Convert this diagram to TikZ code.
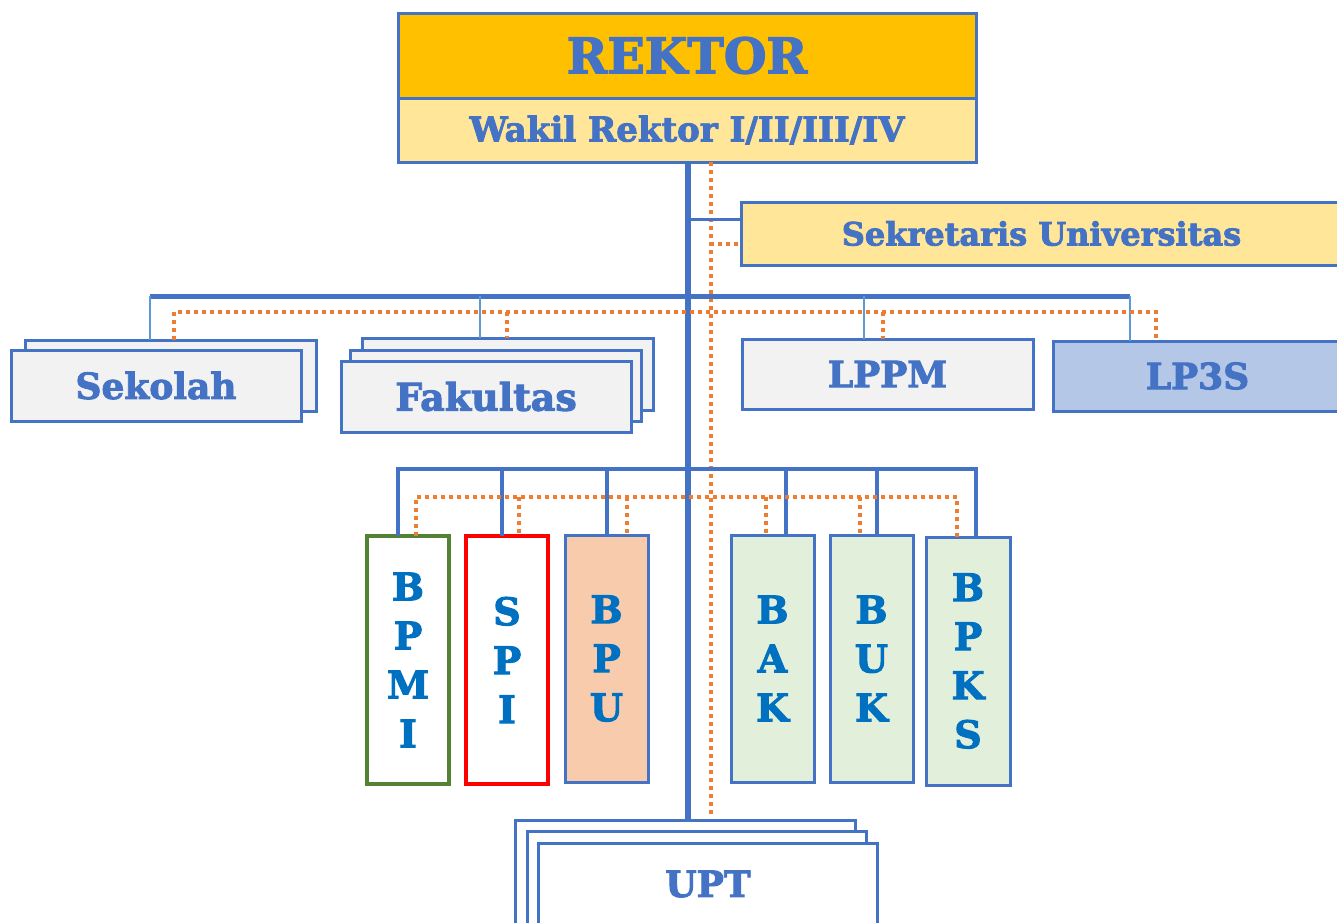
\documentclass[tikz,border=0pt]{standalone}
\usepackage{fontspec}
\setmainfont{DejaVu Serif}[BoldFeatures={FakeBold=2.6}]
\usetikzlibrary{calc}
\definecolor{bl}{HTML}{4472C4}
\definecolor{lbl}{HTML}{5B9BD5}
\definecolor{org}{HTML}{ED7D31}
\definecolor{gold}{HTML}{FFC000}
\definecolor{lgold}{HTML}{FFE699}
\definecolor{gry}{HTML}{F2F2F2}
\definecolor{lp}{HTML}{B4C7E7}
\definecolor{pch}{HTML}{F8CBAD}
\definecolor{lgr}{HTML}{E2EFDA}
\definecolor{dgr}{HTML}{548235}
\definecolor{tb}{HTML}{0070C0}
\begin{document}
\begin{tikzpicture}[x=1pt,y=-1pt,
  box/.style={draw=bl,line width=3pt,inner sep=0pt,outer sep=0pt,text=bl,
    font=\bfseries\fontsize{36}{40}\selectfont},
  vbox/.style={draw=bl,line width=3pt,inner sep=0pt,outer sep=0pt,text=tb,align=center,
    minimum width=83pt,minimum height=247pt,font=\bfseries\fontsize{38}{49}\selectfont},
  txt/.style={inner sep=0pt,text=bl,font=\bfseries\fontsize{36}{40}\selectfont},
  main/.style={draw=bl,line width=5.5pt},
  bar/.style={draw=bl,line width=5pt},
  sub/.style={draw=bl,line width=3.5pt},
  drop/.style={draw=lbl,line width=2.5pt},
  dots/.style={draw=org,line width=4.5pt,dash pattern=on 4pt off 4pt}]
\useasboundingbox[fill=white] (0,0) rectangle (1337,922);

% top
\node[box,fill=gold,minimum width=578pt,minimum height=85pt,font=\bfseries\fontsize{49}{55}\selectfont] (rek) at (687,55.5) {REKTOR};
\node[box,fill=lgold,minimum width=578pt,minimum height=64pt,font=\bfseries\fontsize{34}{38}\selectfont] (wakil) at (687,130) {Wakil Rektor I/II/III/IV};
\node[box,fill=lgold,minimum width=601pt,minimum height=63pt,font=\bfseries\fontsize{32}{36}\selectfont] (sekr) at (1041.5,233.5) {Sekretaris Universitas};

% second row
\node[box,fill=gry,minimum width=291pt,minimum height=71pt] (sekb) at (170.5,375.5) {};
\node[box,fill=gry,minimum width=290pt,minimum height=71pt] (sekolah) at (156,385.5) {Sekolah};
\node[box,fill=gry,minimum width=291pt,minimum height=72pt] (fak3) at (507.5,374) {};
\node[box,fill=gry,minimum width=291pt,minimum height=71pt] (fak2) at (495.5,385.5) {};
\node[box,fill=gry,minimum width=290pt,minimum height=71pt,font=\bfseries\fontsize{38}{42}\selectfont] (fak1) at (486,396.5) {Fakultas};
\node[box,fill=gry,minimum width=291pt,minimum height=70pt] (lppm) at (887.5,374) {LPPM};
\node[box,fill=lp,minimum width=289pt,minimum height=70pt] (lp3s) at (1197.5,376) {LP3S};

% third row
\node[vbox,draw=dgr,line width=4pt,fill=white,minimum width=82pt,minimum height=248pt] (bpmi) at (408,660) {B\\P\\M\\I};
\node[vbox,draw=red,line width=4.5pt,fill=white,minimum width=82pt,minimum height=248pt] (spi) at (507,660) {S\\P\\I};
\node[vbox,fill=pch] (bpu) at (606.5,658.5) {B\\P\\U};
\node[vbox,fill=lgr] (bak) at (772.5,658.5) {B\\A\\K};
\node[vbox,fill=lgr] (buk) at (871.5,658.5) {B\\U\\K};
\node[vbox,fill=lgr,minimum width=84pt,minimum height=248pt] (bpks) at (968,661) {B\\P\\K\\S};

% UPT
\node[box,fill=white,minimum width=340pt,minimum height=120pt] (upt3) at (685,880) {};
\node[box,fill=white,minimum width=339pt,minimum height=120pt] (upt2) at (696.5,891) {};
\node[box,fill=white,minimum width=339pt,minimum height=120pt] (upt1) at (707.5,903) {};
\node[txt] (upttxt) at (708,884) {UPT};

% coordinates
\coordinate (v) at (688,162);
\coordinate (o) at (711,162);
\coordinate (barL) at (150,296);
\coordinate (barR) at (1130,296);
\coordinate (dotL) at (174,312);
\coordinate (dotR) at (1156,312);
\coordinate (lbarL) at (398,469);
\coordinate (lbarR) at (976,469);
\coordinate (ldotL) at (416,497);
\coordinate (ldotR) at (957,497);

% main vertical lines
\draw[main] (v) -- (v |- upt3.north);
\draw[dots] (o) -- ($(o |- upt3.north)+(0,-5)$);

% sekretaris
\draw[sub] ($(sekr.north west)!0.28!(sekr.south west)$) -- (v |- {$(sekr.north west)!0.28!(sekr.south west)$});
\draw[dots] ($(sekr.north west)!0.67!(sekr.south west)+(-3,0)$) -- (o |- {$(sekr.north west)!0.67!(sekr.south west)$});

% second level bar
\draw[bar] (barL) -- (barR);
\draw[drop] (barL) -- (barL |- sekb.north);
\draw[drop] (480,296) -- (480,296 |- fak3.north);
\draw[drop] (864,296) -- (864,296 |- lppm.north);
\draw[drop] (barR) -- (barR |- lp3s.north);
\draw[dots] (dotL |- sekb.north) -- (dotL) -- (dotR) -- (dotR |- lp3s.north);
\draw[dots] (507,312) -- (507,312 |- fak3.north);
\draw[dots] (883,312) -- (883,312 |- lppm.north);

% third level bar
\draw[sub] (lbarL |- bpmi.north) -- (lbarL) -- (lbarR) -- (lbarR |- bpks.north);
\draw[sub] (502,469) -- (502,469 |- spi.north);
\draw[sub] (607,469) -- (607,469 |- bpu.north);
\draw[sub] (786,469) -- (786,469 |- bak.north);
\draw[sub] (877,469) -- (877,469 |- buk.north);
\draw[dots] (ldotL |- bpmi.north) -- (ldotL) -- (ldotR) -- (ldotR |- bpks.north);
\draw[dots] (519,497) -- (519,497 |- spi.north);
\draw[dots] (627,497) -- (627,497 |- bpu.north);
\draw[dots] (766,497) -- (766,497 |- bak.north);
\draw[dots] (860,497) -- (860,497 |- buk.north);
\end{tikzpicture}
\end{document}
